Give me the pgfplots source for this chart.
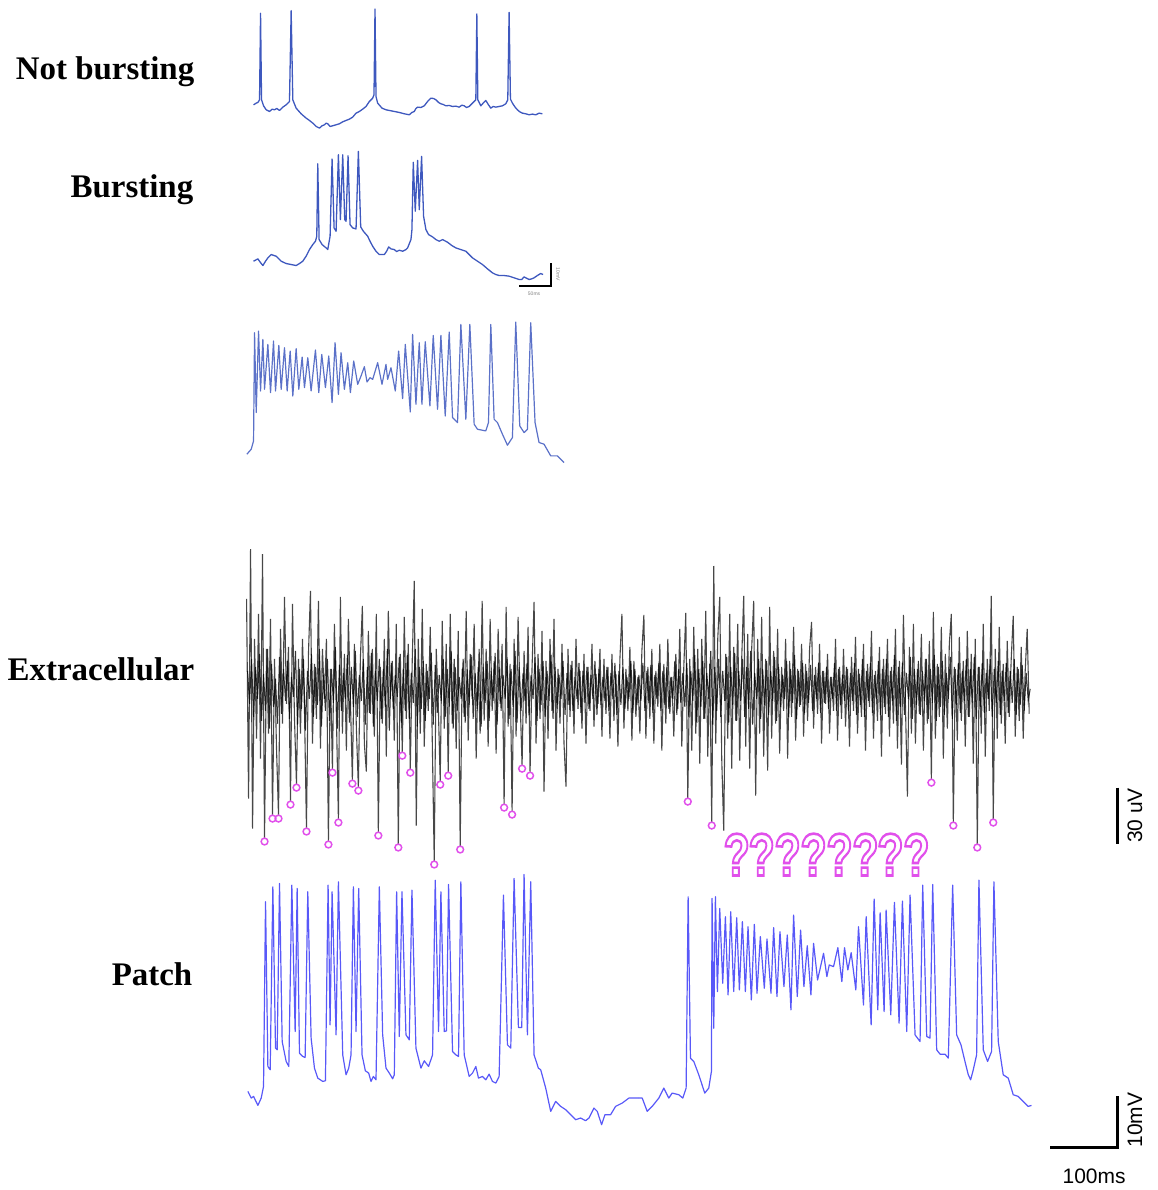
\documentclass[border=0pt]{standalone}
\usepackage{pgfplots}
\pgfplotsset{compat=1.18}
\usepackage{fontspec}
\usepackage{graphicx}
\setmainfont{Liberation Serif}
\newfontfamily\sansf{Liberation Sans}
\definecolor{trace}{RGB}{62,88,190}
\definecolor{patchblue}{RGB}{88,88,248}
\definecolor{mag}{RGB}{225,80,235}
\newcommand{\oq}{\special{pdf:literal direct 1 Tr 1.3 w}?\special{pdf:literal direct 0 Tr}}
\begin{document}
\begin{tikzpicture}
\begin{axis}[width=580pt,height=595pt,scale only axis,
  xmin=0,xmax=1160,ymin=0,ymax=1190,y dir=reverse,
  hide axis,clip=false]
\path[draw=none] (axis cs:0,0) rectangle (axis cs:1160,1190);
% ---------------- Not bursting
\addplot[trace,line width=0.65pt,line join=round] table[header=false,row sep=\\,x expr=\thisrowno{0}/3+240,y expr=\thisrowno{1}/3]{
42 315\\50 310\\55 308\\60 300\\63 40\\66 300\\72 318\\80 330\\90 335\\98 328\\105 330\\112 326\\120 332\\130 322\\140 315\\150 305\\155 32\\160 300\\170 325\\185 342\\200 355\\210 362\\220 370\\230 380\\240 385\\248 378\\255 375\\260 370\\265 372\\272 380\\280 378\\290 375\\300 372\\310 366\\320 362\\330 358\\340 352\\350 340\\360 335\\370 328\\380 320\\390 305\\400 295\\404 285\\407 27\\410 290\\415 310\\428 325\\440 330\\460 334\\480 338\\495 342\\510 345\\518 338\\525 335\\530 326\\535 322\\545 323\\555 318\\565 305\\575 295\\583 296\\590 300\\598 308\\605 312\\612 314\\620 318\\630 317\\640 320\\650 319\\660 322\\668 316\\675 318\\682 323\\690 320\\698 312\\705 305\\710 300\\713 42\\716 300\\725 318\\732 310\\740 302\\748 315\\755 325\\762 320\\770 322\\780 320\\790 318\\800 312\\806 300\\810 37\\814 298\\820 310\\828 322\\835 330\\842 336\\850 340\\860 342\\870 345\\880 343\\890 345\\900 340\\910 342\\
};
% ---------------- Bursting
\addplot[trace,line width=0.65pt,line join=round] table[header=false,row sep=\\,x expr=\thisrowno{0}/3+240,y expr=\thisrowno{1}/3+140]{
42 365\\55 358\\62 368\\70 378\\78 365\\85 355\\95 345\\110 350\\125 365\\140 372\\155 375\\170 378\\180 372\\190 365\\200 350\\210 330\\220 315\\228 305\\232 290\\235 72\\239 300\\248 315\\260 325\\265 330\\272 290\\278 58\\284 265\\290 275\\297 45\\303 240\\310 45\\316 240\\320 245\\326 48\\332 255\\340 265\\350 268\\357 35\\364 262\\372 275\\385 290\\392 305\\400 320\\410 335\\420 345\\435 345\\442 335\\448 322\\455 328\\465 330\\472 336\\480 332\\490 335\\500 330\\505 325\\515 300\\518 270\\522 68\\528 215\\535 62\\540 210\\547 50\\553 230\\560 270\\568 285\\580 292\\590 300\\600 305\\610 300\\625 308\\638 318\\650 325\\665 330\\680 335\\690 345\\700 355\\715 365\\730 375\\745 388\\760 400\\770 405\\780 408\\795 408\\810 410\\825 415\\840 420\\848 420\\855 412\\862 416\\870 420\\878 418\\885 415\\895 408\\905 402\\912 405\\
};
\addplot[black,line width=1pt] coordinates {(520,287) (552,287) (552,263)};
\node[font=\sansf\fontsize{2.5}{3}\selectfont,text=gray] at (axis cs:535,294) {50ms};
\node[font=\sansf\fontsize{2.5}{3}\selectfont,text=gray,rotate=-90] at (axis cs:559,275) {10mV};
% ---------------- Third trace
\addplot[trace!85,line width=0.6pt,line join=round] table[header=false,row sep=\\,x expr=\thisrowno{0}/3+240,y expr=\thisrowno{1}/3+310]{
22 435\\35 420\\42 395\\45 70\\50 310\\57 65\\63 245\\70 90\\75 240\\85 105\\93 250\\102 95\\108 245\\118 108\\125 240\\135 115\\143 245\\152 125\\160 260\\170 118\\178 240\\188 143\\195 235\\205 145\\215 245\\228 122\\238 250\\247 135\\258 235\\268 140\\278 280\\287 100\\297 255\\305 130\\315 240\\325 160\\333 250\\343 155\\355 225\\365 200\\375 172\\383 218\\392 205\\400 210\\415 160\\428 225\\440 165\\445 210\\455 175\\468 245\\478 125\\490 268\\498 105\\513 308\\520 75\\530 285\\540 100\\548 285\\558 97\\572 290\\582 78\\595 300\\605 78\\618 320\\630 68\\640 325\\655 340\\665 45\\680 330\\692 45\\705 345\\715 360\\740 365\\748 340\\755 45\\765 330\\775 340\\790 375\\805 408\\820 385\\830 38\\842 350\\855 370\\865 360\\875 40\\888 340\\900 400\\915 405\\935 440\\955 440\\975 460\\
};
% ---------------- Extracellular
\addplot[black,opacity=0.72,line width=0.55pt] table[header=false,row sep=\\,x expr=\coordindex*2+247,y expr=\thisrowno{0}]{
600\\800\\550\\830\\640\\740\\615\\760\\555\\840\\650\\735\\620\\817\\660\\750\\817\\630\\725\\598\\
705\\648\\803\\605\\720\\786\\660\\735\\640\\710\\830\\655\\592\\745\\665\\720\\602\\750\\650\\700\\
640\\843\\670\\771\\625\\718\\821\\598\\735\\655\\752\\620\\700\\782\\645\\730\\789\\660\\607\\745\\
773\\632\\715\\650\\738\\615\\834\\668\\725\\640\\758\\612\\700\\662\\742\\625\\846\\655\\754\\618\\
720\\645\\771\\660\\582\\827\\640\\735\\610\\748\\665\\712\\628\\740\\863\\650\\705\\783\\622\\730\\
645\\774\\615\\725\\660\\750\\632\\848\\670\\718\\612\\742\\655\\700\\625\\760\\668\\735\\602\\722\\
650\\748\\620\\712\\662\\755\\630\\705\\645\\806\\608\\728\\665\\813\\640\\738\\618\\700\\767\\652\\
725\\628\\774\\668\\603\\745\\655\\720\\632\\793\\662\\740\\640\\712\\620\\752\\670\\725\\645\\745\\
788\\650\\718\\662\\735\\640\\710\\672\\730\\655\\745\\668\\712\\645\\728\\675\\705\\650\\738\\660\\
715\\668\\740\\655\\722\\675\\748\\660\\615\\730\\670\\712\\648\\742\\662\\718\\678\\735\\652\\616\\
740\\668\\720\\650\\745\\672\\708\\645\\752\\665\\725\\640\\715\\678\\738\\655\\710\\630\\748\\668\\
614\\800\\660\\752\\628\\735\\650\\765\\640\\720\\612\\758\\665\\824\\567\\745\\640\\598\\760\\832\\
655\\740\\615\\770\\648\\722\\625\\762\\660\\597\\748\\635\\770\\650\\602\\797\\640\\735\\618\\758\\
660\\772\\608\\740\\652\\725\\630\\755\\668\\712\\640\\760\\662\\718\\628\\742\\670\\708\\645\\738\\
665\\722\\650\\623\\730\\668\\715\\645\\745\\672\\705\\655\\735\\678\\712\\640\\742\\668\\720\\650\\
728\\670\\748\\658\\712\\638\\735\\675\\718\\645\\752\\665\\708\\632\\740\\672\\722\\648\\758\\660\\
715\\640\\738\\668\\725\\630\\750\\662\\766\\616\\705\\798\\648\\735\\625\\745\\670\\715\\635\\752\\
660\\725\\642\\781\\613\\740\\665\\718\\628\\760\\655\\730\\645\\615\\824\\670\\742\\638\\722\\662\\
748\\632\\718\\655\\765\\640\\846\\668\\735\\625\\758\\660\\712\\597\\821\\650\\740\\628\\725\\665\\
745\\642\\718\\660\\617\\738\\668\\722\\648\\740\\672\\630\\715\\
};
% dense core of the extracellular trace
\addplot[black,opacity=0.8,line width=0.5pt] table[header=false,row sep=\\,x expr=\coordindex*2+248,y expr=\thisrowno{0}]{
672\\705\\660\\718\\668\\700\\655\\722\\675\\712\\650\\730\\665\\708\\680\\725\\658\\715\\670\\702\\
662\\720\\678\\698\\652\\726\\670\\710\\660\\732\\672\\700\\655\\718\\668\\706\\650\\728\\676\\712\\
660\\722\\670\\704\\648\\730\\666\\712\\674\\700\\656\\724\\668\\708\\652\\718\\676\\702\\660\\726\\
668\\714\\654\\728\\672\\702\\660\\720\\670\\708\\650\\732\\664\\710\\676\\698\\658\\724\\670\\712\\
656\\720\\674\\704\\650\\728\\668\\710\\662\\722\\672\\700\\654\\726\\666\\714\\676\\702\\660\\718\\
670\\708\\652\\730\\668\\712\\678\\700\\660\\724\\670\\706\\656\\720\\674\\710\\650\\728\\668\\704\\
662\\722\\672\\702\\654\\726\\668\\712\\676\\700\\660\\720\\670\\708\\652\\724\\668\\712\\674\\702\\
664\\716\\676\\700\\658\\722\\670\\706\\662\\718\\672\\702\\656\\720\\668\\710\\676\\700\\662\\716\\
674\\706\\666\\712\\678\\700\\664\\714\\672\\704\\668\\710\\676\\700\\662\\716\\670\\706\\678\\702\\
668\\712\\674\\700\\664\\716\\672\\706\\668\\710\\678\\700\\662\\714\\670\\706\\676\\702\\664\\712\\
672\\704\\666\\714\\676\\700\\664\\712\\672\\706\\668\\710\\678\\700\\662\\716\\670\\704\\674\\708\\
664\\718\\672\\702\\656\\724\\670\\708\\662\\720\\674\\700\\652\\726\\668\\712\\660\\718\\672\\702\\
658\\724\\668\\706\\654\\722\\672\\702\\660\\718\\668\\710\\652\\726\\674\\700\\660\\720\\670\\706\\
662\\716\\672\\702\\658\\722\\668\\708\\676\\700\\662\\718\\670\\704\\656\\720\\672\\706\\664\\714\\
672\\704\\666\\712\\676\\700\\664\\714\\672\\704\\668\\710\\678\\700\\664\\712\\670\\706\\676\\702\\
668\\712\\674\\702\\664\\716\\670\\706\\660\\718\\672\\702\\664\\714\\676\\700\\662\\716\\670\\708\\
660\\718\\672\\702\\656\\722\\668\\708\\664\\716\\674\\700\\658\\720\\670\\706\\662\\716\\672\\702\\
660\\720\\670\\704\\656\\722\\668\\708\\662\\716\\674\\700\\658\\720\\668\\706\\664\\714\\672\\702\\
660\\718\\670\\704\\658\\720\\668\\708\\664\\714\\674\\700\\660\\718\\670\\704\\662\\716\\672\\702\\
664\\714\\672\\704\\660\\716\\670\\706\\666\\712\\674\\702\\690\\
};
\addplot[only marks,mark=o,mag,mark size=1.7pt,mark options={line width=0.75pt}] coordinates {
(265,843)(273,820)(279,820)(291,806)(297,789)(307,833)(329,846)(333,774)(339,824)(353,785)(359,792)(379,837)(399,849)(403,757)(411,774)(435,866)(441,786)(449,777)(461,851)(505,809)(513,816)(523,770)(531,777)(689,803)(713,827)(933,784)(955,827)(979,849)(995,824)};
\pgfplotsinvokeforeach{738,763,789,815,841,867,892,918}{
  \node[anchor=base,inner sep=0pt,text=mag,font=\sansf\bfseries\fontsize{30}{30}\selectfont] at (axis cs:#1,877) {\scalebox{0.72}[1]{\oq}};
}
% ---------------- Patch
\addplot[patchblue,line width=0.6pt,line join=round] table[header=false,row sep=\\,x expr=\thisrowno{0}/3+240,y expr=\thisrowno{1}/3+870]{
25 670\\35 690\\42 685\\55 712\\65 690\\72 655\\78 100\\85 595\\92 605\\100 55\\108 540\\113 545\\120 45\\128 520\\140 580\\148 595\\157 50\\167 490\\173 60\\180 555\\190 565\\197 568\\205 70\\215 510\\225 600\\235 630\\250 640\\258 638\\266 50\\272 470\\278 70\\290 500\\297 40\\310 560\\320 620\\328 600\\335 560\\342 55\\350 490\\358 60\\368 560\\378 608\\388 615\\395 640\\402 625\\410 635\\420 55\\430 500\\440 600\\450 615\\460 632\\465 620\\472 70\\480 505\\488 70\\500 500\\510 515\\518 65\\530 540\\545 600\\555 578\\568 595\\580 560\\588 35\\598 490\\605 70\\615 490\\622 488\\628 48\\640 550\\650 560\\658 565\\665 40\\675 560\\690 625\\700 615\\710 595\\718 630\\730 625\\740 635\\750 618\\760 640\\770 645\\780 625\\793 80\\805 530\\815 540\\825 30\\838 478\\848 478\\855 18\\865 500\\875 40\\885 560\\898 600\\905 605\\920 660\\935 730\\950 700\\965 715\\980 725\\995 740\\1010 755\\1025 750\\1040 758\\1050 750\\1065 720\\1075 730\\1088 770\\1098 740\\1115 740\\1130 715\\1150 705\\1170 690\\1185 690\\1200 690\\
};
\addplot[patchblue,line width=0.6pt,line join=round] table[header=false,row sep=\\,x expr=\thisrowno{0}/3+640,y expr=\thisrowno{1}/3+870]{
0 690\\10 690\\25 730\\40 715\\60 690\\75 660\\90 690\\100 675\\120 680\\132 690\\142 660\\148 85\\155 570\\165 580\\180 620\\198 675\\210 660\\218 610\\220 90\\225 480\\230 85\\236 370\\243 120\\252 345\\260 145\\268 380\\276 130\\285 370\\294 148\\302 365\\311 160\\320 370\\328 175\\338 395\\347 168\\355 375\\365 205\\377 360\\385 212\\397 375\\405 178\\415 385\\424 190\\436 355\\446 200\\457 425\\465 140\\476 385\\486 185\\496 355\\506 232\\517 380\\525 225\\537 335\\555 255\\565 325\\572 290\\585 295\\598 238\\610 340\\618 238\\628 305\\638 253\\652 365\\660 175\\675 410\\683 145\\698 470\\707 92\\718 425\\725 133\\737 430\\743 125\\757 440\\768 102\\782 465\\792 98\\805 490\\815 80\\830 500\\845 520\\853 50\\865 505\\875 510\\883 48\\895 545\\905 558\\920 558\\930 570\\943 50\\955 500\\968 530\\980 580\\990 620\\997 635\\1005 605\\1015 560\\1022 35\\1035 545\\1048 580\\1060 550\\1067 40\\1080 520\\1095 620\\1110 630\\1125 680\\1140 685\\1155 700\\1170 715\\1180 712\\
};
% ---------------- Scale bars
\addplot[black,line width=1.5pt] coordinates {(1119,789) (1119,845)};
\node[font=\sansf\fontsize{10.5}{12}\selectfont,rotate=90] at (axis cs:1137,817) {30 uV};
\addplot[black,line width=1.5pt] coordinates {(1052,1150) (1119,1150) (1119,1098)};
\node[font=\sansf\fontsize{10.5}{12}\selectfont,rotate=90] at (axis cs:1137,1122) {10mV};
\node[font=\sansf\fontsize{10.5}{12}\selectfont] at (axis cs:1096,1178) {100ms};
% ---------------- Labels
\node[anchor=base east,inner sep=0pt,font=\bfseries\fontsize{16.5}{18}\selectfont] at (axis cs:195,80) {Not bursting};
\node[anchor=base east,inner sep=0pt,font=\bfseries\fontsize{16.5}{18}\selectfont] at (axis cs:194,198) {Bursting};
\node[anchor=base east,inner sep=0pt,font=\bfseries\fontsize{16.5}{18}\selectfont] at (axis cs:195,682) {Extracellular};
\node[anchor=base east,inner sep=0pt,font=\bfseries\fontsize{16.5}{18}\selectfont] at (axis cs:193,987) {Patch};
\end{axis}
\end{tikzpicture}
\end{document}
